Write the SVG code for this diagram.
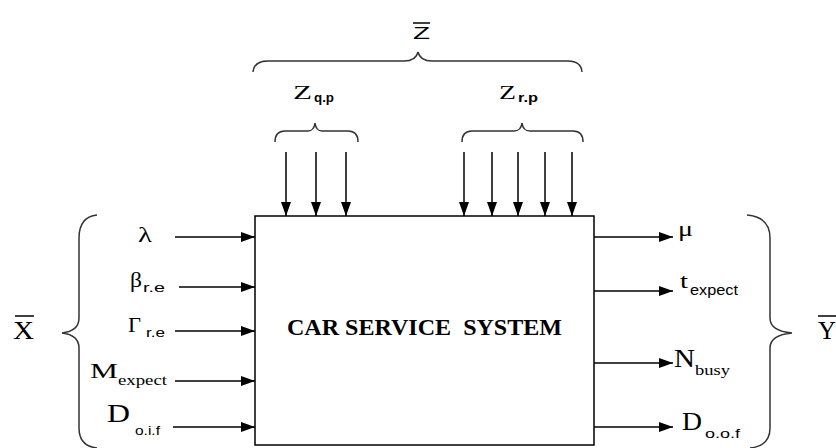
<svg xmlns="http://www.w3.org/2000/svg" width="836" height="448" viewBox="0 0 836 448">
<style>
.ln{stroke:#000;stroke-width:1.5;fill:none}
.br{stroke:#333;stroke-width:1.5;fill:none}
.ov{stroke:#000;stroke-width:1.5}
.sf{font-family:"Liberation Serif","Times New Roman",serif;fill:#000}
.ss{font-family:"Liberation Sans",Arial,sans-serif;fill:#000}
.ttl{font-family:"Liberation Serif","Times New Roman",serif;font-weight:bold;font-size:24px;fill:#000}
</style>
<defs>
<marker id="ah" markerUnits="userSpaceOnUse" markerWidth="14" markerHeight="10" refX="14" refY="5" orient="auto">
<path d="M0,0 L14,5 L0,10 z" fill="#000"/>
</marker>
</defs>

<g id="system">
<rect x="255" y="216" width="339" height="229" class="ln"/>
<text class="ttl" x="287" y="335" textLength="275" lengthAdjust="spacingAndGlyphs" xml:space="preserve">CAR SERVICE  SYSTEM</text>
</g>

<g id="braces">
<path class="br" d="M253,72 Q254,61 268,61 L404,61 Q416,61 418,52 Q420,61 432,61 L568,61 Q581,61 582,72"/>
<path class="br" d="M275,142 Q275,131 285,131 L308,131 Q314,131 315,123 Q316,131 322,131 L348,131 Q358,131 358,142"/>
<path class="br" d="M462,142 Q462,131 472,131 L514,131 Q521,131 522,123 Q523,131 530,131 L573,131 Q583,131 583,142"/>
<path class="br" d="M97,215 Q79,217 79,238 L79,318 Q79,331 62,333 Q79,335 79,348 L79,428 Q79,446 97,448"/>
<path class="br" d="M747,215 Q770,217 770,238 L770,318 Q770,331 792,333 Q770,335 770,348 L770,428 Q770,446 750,448"/>
</g>

<g id="Z-total">
<text class="ss" x="413" y="39" font-size="17" textLength="17" lengthAdjust="spacingAndGlyphs">Z</text>
<line class="ov" x1="413" y1="23" x2="430" y2="23"/>
</g>
<g id="Z-qp">
<text class="sf" x="293" y="99" font-size="18" textLength="19" lengthAdjust="spacingAndGlyphs">Z</text>
<text class="ss" x="314" y="102" font-size="12" font-weight="bold" textLength="20" lengthAdjust="spacingAndGlyphs">q.p</text>
</g>
<g id="Z-rp">
<text class="sf" x="499" y="99" font-size="18" textLength="17" lengthAdjust="spacingAndGlyphs">Z</text>
<text class="ss" x="518" y="102" font-size="12" font-weight="bold" textLength="20" lengthAdjust="spacingAndGlyphs">r.p</text>
</g>

<g id="X">
<text class="sf" x="13" y="339" font-size="25" textLength="21" lengthAdjust="spacingAndGlyphs">X</text>
<line class="ov" x1="15" y1="316" x2="34" y2="316"/>
</g>
<g id="Y">
<text class="sf" x="818" y="339" font-size="25" textLength="18" lengthAdjust="spacingAndGlyphs">Y</text>
<line class="ov" x1="818" y1="316" x2="836" y2="316"/>
</g>

<g id="in-lambda">
<text class="sf" x="138" y="242" font-size="20" textLength="14" lengthAdjust="spacingAndGlyphs">λ</text>
</g>
<g id="in-beta">
<text class="sf" x="130" y="287" font-size="22" textLength="12" lengthAdjust="spacingAndGlyphs">β</text>
<text class="ss" x="143" y="292" font-size="13" textLength="22" lengthAdjust="spacingAndGlyphs">r.e</text>
</g>
<g id="in-gamma">
<text class="sf" x="128" y="332" font-size="22" textLength="13" lengthAdjust="spacingAndGlyphs">Γ</text>
<text class="ss" x="146" y="337" font-size="12" textLength="19" lengthAdjust="spacingAndGlyphs">r.e</text>
</g>
<g id="in-M">
<text class="sf" x="90" y="378" font-size="20" textLength="28" lengthAdjust="spacingAndGlyphs">M</text>
<text class="sf" x="118" y="385" font-size="15" textLength="49" lengthAdjust="spacingAndGlyphs">expect</text>
</g>
<g id="in-D">
<text class="sf" x="107" y="422" font-size="25" textLength="23" lengthAdjust="spacingAndGlyphs">D</text>
<text class="ss" x="135" y="435" font-size="13" textLength="25" lengthAdjust="spacingAndGlyphs">o.i.f</text>
</g>

<g id="out-mu">
<text class="sf" x="678" y="236" font-size="22" textLength="15" lengthAdjust="spacingAndGlyphs">μ</text>
</g>
<g id="out-t">
<text class="sf" x="680" y="288" font-size="22" textLength="8" lengthAdjust="spacingAndGlyphs">t</text>
<text class="ss" x="690" y="295" font-size="14" textLength="48" lengthAdjust="spacingAndGlyphs">expect</text>
</g>
<g id="out-N">
<text class="sf" x="674" y="367" font-size="26" textLength="21" lengthAdjust="spacingAndGlyphs">N</text>
<text class="sf" x="695" y="375" font-size="15" textLength="35" lengthAdjust="spacingAndGlyphs">busy</text>
</g>
<g id="out-D">
<text class="sf" x="682" y="430" font-size="26" textLength="20" lengthAdjust="spacingAndGlyphs">D</text>
<text class="ss" x="705" y="438" font-size="13" textLength="35" lengthAdjust="spacingAndGlyphs">o.o.f</text>
</g>

<g id="connectors">
<line class="ln" x1="286" y1="152" x2="286" y2="216" marker-end="url(#ah)"/>
<line class="ln" x1="316" y1="152" x2="316" y2="216" marker-end="url(#ah)"/>
<line class="ln" x1="346" y1="152" x2="346" y2="216" marker-end="url(#ah)"/>
<line class="ln" x1="464" y1="152" x2="464" y2="216" marker-end="url(#ah)"/>
<line class="ln" x1="492" y1="152" x2="492" y2="216" marker-end="url(#ah)"/>
<line class="ln" x1="518" y1="152" x2="518" y2="216" marker-end="url(#ah)"/>
<line class="ln" x1="545" y1="152" x2="545" y2="216" marker-end="url(#ah)"/>
<line class="ln" x1="572" y1="152" x2="572" y2="216" marker-end="url(#ah)"/>
<line class="ln" x1="175" y1="237" x2="255" y2="237" marker-end="url(#ah)"/>
<line class="ln" x1="179" y1="287" x2="255" y2="287" marker-end="url(#ah)"/>
<line class="ln" x1="175" y1="331" x2="255" y2="331" marker-end="url(#ah)"/>
<line class="ln" x1="175" y1="381" x2="255" y2="381" marker-end="url(#ah)"/>
<line class="ln" x1="173" y1="427" x2="255" y2="427" marker-end="url(#ah)"/>
<line class="ln" x1="594" y1="237" x2="673" y2="237" marker-end="url(#ah)"/>
<line class="ln" x1="594" y1="291" x2="673" y2="291" marker-end="url(#ah)"/>
<line class="ln" x1="594" y1="363" x2="673" y2="363" marker-end="url(#ah)"/>
<line class="ln" x1="594" y1="427" x2="673" y2="427" marker-end="url(#ah)"/>
</g>
</svg>
